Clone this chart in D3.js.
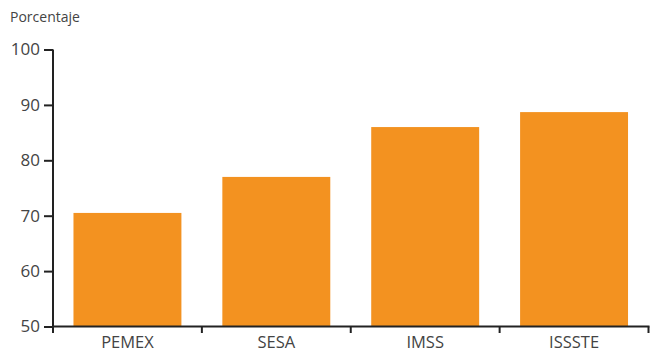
<!DOCTYPE html>
<html><head><meta charset="utf-8">
<script src="https://cdn.jsdelivr.net/npm/d3@7"></script>
<style>
html,body{margin:0;padding:0;background:#fff;}
svg text{font-family:"Open Sans",sans-serif;fill:#444;}
</style></head>
<body><svg id="c" width="650" height="352"></svg>
<script>
const categories = ["PEMEX","SESA","IMSS","ISSSTE"];
const values = [70.5, 77.0, 86.0, 88.7];
const yTicks = [50,60,70,80,90,100];
const yLabel = "Porcentaje";

const svg = d3.select("#c");
const mLeft = 53, mRight = 648.5, mTop = 49.5, mBottom = 326.5;

const x = d3.scaleBand().domain(categories).range([mLeft, mRight]).paddingInner(0.275).paddingOuter(0.1375);
const xb = d3.scaleBand().domain(categories).range([mLeft, mRight]).padding(0);
const y = d3.scaleLinear().domain([50,100]).range([mBottom, mTop]);

svg.append("g").selectAll("rect").data(categories).join("rect")
  .attr("x", d => x(d)).attr("width", x.bandwidth())
  .attr("y", (d,i) => y(values[i])).attr("height", (d,i) => mBottom - y(values[i]))
  .attr("fill", "#F39220");

// y axis
const ya = svg.append("g").attr("transform", `translate(${mLeft},0)`)
  .call(d3.axisLeft(y).tickValues(yTicks).tickSize(9).tickPadding(4));
ya.select(".domain").remove();
ya.selectAll(".tick line").attr("stroke","#222").attr("stroke-width",2);
ya.selectAll(".tick text").style("font-size","17px").attr("fill","#444");
svg.append("line").attr("x1",mLeft).attr("x2",mLeft).attr("y1",y(100)).attr("y2",mBottom+6.5)
  .attr("stroke","#222").attr("stroke-width",2);

// x axis
const xa = svg.append("g").attr("transform", `translate(0,${mBottom})`)
  .call(d3.axisBottom(x).tickSize(0).tickPadding(0));
xa.select(".domain").remove();
xa.selectAll(".tick text").attr("dy", null).attr("y", 21).style("font-size","16.5px").attr("fill","#444");
svg.append("line").attr("x1",mLeft-1).attr("x2",mRight+1).attr("y1",mBottom).attr("y2",mBottom)
  .attr("stroke","#222").attr("stroke-width",2);
const bounds = categories.map(c => xb(c)).concat([xb(categories[categories.length-1]) + xb.bandwidth()]).slice(1);
svg.append("g").selectAll("line").data(bounds).join("line")
  .attr("x1", d => d).attr("x2", d => d).attr("y1", mBottom).attr("y2", mBottom+6.5)
  .attr("stroke","#222").attr("stroke-width",2);

svg.append("text").attr("x",10).attr("y",22).style("font-size","14px").attr("fill","#444").text(yLabel);
</script></body></html>
